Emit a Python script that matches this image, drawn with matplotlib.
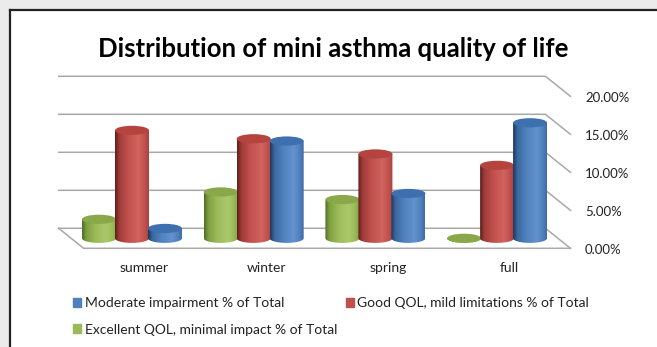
import numpy as np
import matplotlib
matplotlib.use("Agg")
import matplotlib.pyplot as plt
from matplotlib.colors import LinearSegmentedColormap
from matplotlib.lines import Line2D
from matplotlib.patches import Ellipse, Patch, PathPatch, Rectangle
from matplotlib.path import Path

plt.rcParams["font.family"] = ["Lato", "DejaVu Sans"]

# data (percent of total)
seasons = ["summer", "winter", "spring", "full"]
excellent = [2.5, 6.1, 5.1, 0.0]
good = [14.2, 13.1, 11.1, 9.6]
moderate = [1.3, 12.8, 5.9, 15.2]
y_ticks = [0, 5, 10, 15, 20]

lbl_mod = "Moderate impairment % of Total"
lbl_good = "Good QOL, mild limitations % of Total"
lbl_exc = "Excellent QOL, minimal impact % of Total"

# cylinder shading: dark left edge -> base -> soft highlight -> edge
shades = {
    "green": ["#4f6a26", "#7f9f40", "#9bbb59", "#abc96c", "#9bbb59", "#86a548"],
    "red": ["#5e1e1c", "#a03c39", "#c0504d", "#d1645f", "#c0504d", "#a8423f"],
    "blue": ["#1b365a", "#3a689f", "#4f81bd", "#6292cc", "#4f81bd", "#3d6ba6"],
}
tops = {"green": "#88a849", "red": "#b5443f", "blue": "#3e6fae"}
base = {"green": "#9bbb59", "red": "#c0504d", "blue": "#4f81bd"}
stops = [0.0, 0.13, 0.38, 0.7, 0.88, 1.0]

series = [
    (lbl_exc, excellent, "green", -0.271),
    (lbl_good, good, "red", 0.0),
    (lbl_mod, moderate, "blue", 0.271),
]

# pseudo-3d geometry, in data units
px_cat, x0_px = 121.7, 132.0
px_pct, y0_px = 7.6, 238.3
W, H = 657, 347
dx = 12.5 / px_cat
dy = 10.0 / px_pct
half_w = 17.0 / px_cat
ell_b = 4.6 / px_pct

fig = plt.figure(figsize=(W / 100, H / 100), dpi=100)
fig.patch.set_facecolor("#ebebeb")
fig.patches.append(Rectangle((10 / W, 0), 1, 1 - 10 / H, transform=fig.transFigure,
                             facecolor="white", edgecolor="none", zorder=-10))
fig.lines.append(Line2D([10 / W, 1], [1 - 10 / H] * 2, transform=fig.transFigure,
                        color="#222222", lw=1.6, zorder=-5))
fig.lines.append(Line2D([10 / W] * 2, [0, 1 - 10 / H], transform=fig.transFigure,
                        color="#222222", lw=1.6, zorder=-5))

ax = fig.add_axes([0, 0, 1, 1])
ax.patch.set_visible(False)
ax.axis("off")
xlim = (-x0_px / px_cat, (W - x0_px) / px_cat)
ylim = ((y0_px - H) / px_pct, y0_px / px_pct)

grid_c = "#a8a8a8"
left, right = -0.5, len(seasons) - 0.5
for v in y_ticks:
    ax.plot([left - dx, right - dx, right + dx], [v + dy, v + dy, v - dy],
            color=grid_c, lw=1.1, zorder=1)
    ax.text(right + dx + 0.12, v - dy - 0.2, f"{v:.2f}%", ha="left", va="center",
            fontsize=9.5, color="#222222")
ax.plot([left - dx, left + dx, right + dx], [dy, -dy, -dy], color=grid_c, lw=1.1, zorder=1)

for i, s in enumerate(seasons):
    ax.text(i + dx, -3.9, s, ha="center", va="center", fontsize=10, color="#222222")

grad = np.linspace(0, 1, 256).reshape(1, -1)
z = 2
for i in range(len(seasons)):
    for name, vals, col, off in series:
        c, v = i + off, vals[i]
        cmap = LinearSegmentedColormap.from_list(col, list(zip(stops, shades[col])))
        t = np.linspace(np.pi, 2 * np.pi, 40)
        xs = np.concatenate([[c - half_w], c + half_w * np.cos(t), [c + half_w]])
        ys = np.concatenate([[v], ell_b * np.sin(t), [v]])
        body = PathPatch(Path(np.column_stack([xs, ys])), facecolor="none",
                         edgecolor="none", zorder=z)
        ax.add_patch(body)
        im = ax.imshow(grad, cmap=cmap, extent=(c - half_w, c + half_w, -ell_b, v + 0.01),
                       aspect="auto", origin="lower", interpolation="bilinear", zorder=z)
        im.set_clip_path(body)
        ax.add_patch(Ellipse((c, v), 2 * half_w, 2 * ell_b, facecolor=tops[col],
                             edgecolor="none", zorder=z + 0.5))
        z += 1

ax.set_xlim(*xlim)
ax.set_ylim(*ylim)

fig.text(333 / W, 1 - 49 / H, "Distribution of mini asthma quality of life",
         ha="center", va="center", fontsize=18.5, fontweight="bold", color="black")

handles = [Patch(color=base["blue"], label=lbl_mod),
           Patch(color=base["green"], label=lbl_exc),
           Patch(color=base["red"], label=lbl_good)]
fig.legend(handles=handles, ncol=2, loc="upper left", bbox_to_anchor=(73 / W, 1 - 297 / H),
           frameon=False, fontsize=10.0, handlelength=0.6, handleheight=0.6,
           handletextpad=0.25, labelspacing=1.05, columnspacing=0.6, borderpad=0,
           borderaxespad=0, labelcolor="#222222")

fig.savefig("out.png", dpi=100)
